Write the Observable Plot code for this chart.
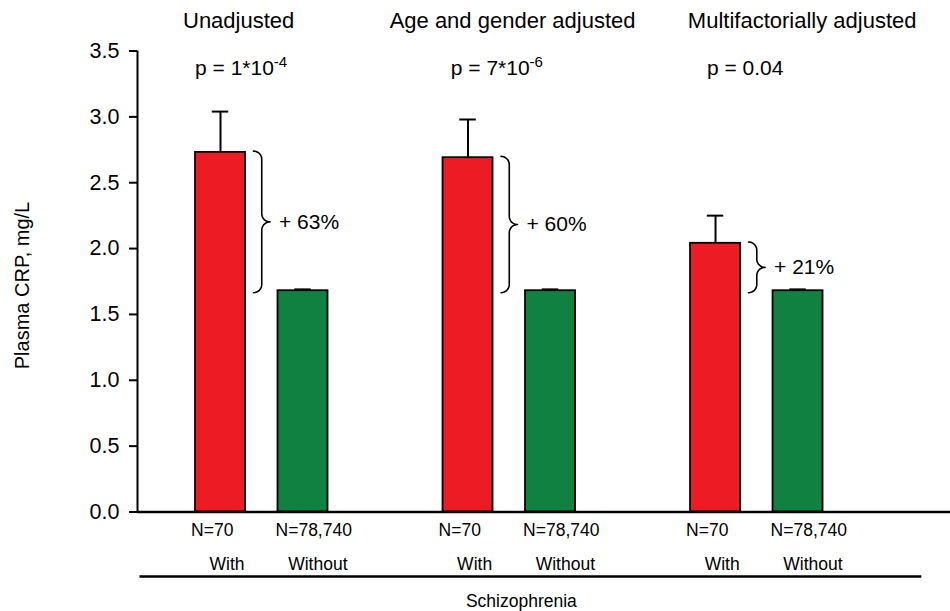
<!DOCTYPE html>
<html>
<head>
<meta charset="utf-8">
<script src="https://cdn.jsdelivr.net/npm/d3@7"></script>
<script src="https://cdn.jsdelivr.net/npm/@observablehq/plot@0.6"></script>
<style>
  html, body { margin: 0; padding: 0; background: #fff; }
  #chart svg { display: block; }
</style>
</head>
<body>
<div id="chart"></div>
<script>
// Plasma CRP in people with and without schizophrenia, under three adjustment models
const models = ["Unadjusted", "Age and gender adjusted", "Multifactorially adjusted"];
const pValues = ["p = 1*10^-4", "p = 7*10^-6", "p = 0.04"];
const statuses = ["With", "Without"];
const groupSizes = ["N=70", "N=78,740"];
const crpWith = [2.73, 2.69, 2.04];
const crpWithUpper = [3.04, 2.98, 2.25];
const crpWithout = [1.68, 1.68, 1.68];
const crpWithoutUpper = [1.69, 1.69, 1.69];
const increases = ["+ 63%", "+ 60%", "+ 21%"];
const yTicks = [0, 0.5, 1, 1.5, 2, 2.5, 3, 3.5];
const groupLabel = "Schizophrenia";
const yLabel = "Plasma CRP, mg/L";

// Layout: each model takes three slots on the x scale (with, without, gap)
const slotsPerModel = 3;
const halfBar = 0.303;
const capHalf = 0.1;
const xDomain = [-1.006, 8.848];
const fontFamily = "'Liberation Sans', Arial, Helvetica, sans-serif";
const colors = {With: "#ED1C24", Without: "#108140"};
const titleShift = [-0.28, 0.04, 0.55];
const pShift = [-0.25, -0.15, -0.14];
const rowShift = {With: [-0.1, 0.08], Without: [0.13, 0.18]};

const bars = [];
models.forEach((m, i) => {
  statuses.forEach((s, j) => {
    bars.push({
      model: m,
      status: s,
      n: groupSizes[j],
      slot: i * slotsPerModel + j,
      value: j === 0 ? crpWith[i] : crpWithout[i],
      upper: j === 0 ? crpWithUpper[i] : crpWithoutUpper[i]
    });
  });
});

// Curly brace between the two bars of each model
const rx = 0.1, ry = 0.062;
function arc(cx, cv, a0, a1, model) {
  const pts = [];
  const n = 8;
  for (let k = 0; k <= n; k++) {
    const t = (a0 + (a1 - a0) * k / n) * Math.PI / 180;
    pts.push({model, x: cx + rx * Math.cos(t), y: cv - ry * Math.sin(t)});
  }
  return pts;
}
const braces = [];
const braceLabels = [];
models.forEach((m, i) => {
  const spine = i * slotsPerModel + 0.5;
  const top = crpWith[i] + 0.01;
  const bot = crpWithout[i] - 0.015;
  const mid = (top + bot) / 2;
  braces.push(
    ...arc(spine - rx, top - ry, -90, 0, m),
    ...arc(spine + rx, mid + ry, 180, 90, m),
    ...arc(spine + rx, mid - ry, 270, 180, m),
    ...arc(spine - rx, bot + ry, 0, 90, m)
  );
  braceLabels.push({x: spine + rx, y: mid, text: increases[i]});
});

const lastSlot = (models.length - 1) * slotsPerModel + 1;
const lineEnd = lastSlot + 1.5;

const chart = Plot.plot({
  width: 950,
  height: 611,
  marginLeft: 137,
  marginRight: 0,
  marginTop: 50.5,
  marginBottom: 99.5,
  style: {fontFamily, color: "#000", background: "#fff", overflow: "visible"},
  x: {type: "linear", domain: xDomain, axis: null},
  y: {domain: [0, 3.5], axis: null},
  marks: [
    // error bars
    Plot.ruleX(bars, {x: "slot", y1: "value", y2: "upper", stroke: "#000", strokeWidth: 2}),
    Plot.ruleY(bars, {y: "upper", x1: d => d.slot - capHalf, x2: d => d.slot + capHalf, stroke: "#000", strokeWidth: 2}),
    // bars
    Plot.rect(bars, {
      x1: d => d.slot - halfBar, x2: d => d.slot + halfBar,
      y1: 0, y2: "value",
      fill: d => colors[d.status], stroke: "#000", strokeWidth: 1.8
    }),
    // axes
    Plot.axisY(yTicks, {
      tickFormat: d => d.toFixed(1), tickSize: 8, tickPadding: 10,
      fontSize: 21.5, strokeWidth: 2, label: null
    }),
    Plot.ruleX([xDomain[0]], {y1: 0, y2: 3.5, stroke: "#000", strokeWidth: 2}),
    Plot.ruleY([0], {stroke: "#000", strokeWidth: 2.5}),
    Plot.text([yLabel], {frameAnchor: "left", dx: -115, dy: 4, rotate: -90, textAnchor: "middle", lineAnchor: "middle", fontSize: 20}),
    // braces and percentage differences
    Plot.line(braces, {x: "x", y: "y", z: "model", stroke: "#000", strokeWidth: 1.6}),
    Plot.text(braceLabels, {x: "x", y: "y", text: "text", textAnchor: "start", dx: 9, fontSize: 21}),
    // model titles and p values
    Plot.text(models, {x: (d, i) => i * slotsPerModel + 0.5 + titleShift[i], frameAnchor: "top", lineAnchor: "middle", dy: -30.5, fontSize: 22}),
    Plot.text(pValues, {x: (d, i) => i * slotsPerModel + 0.5 + pShift[i], frameAnchor: "top", lineAnchor: "middle", dy: 17.5, fontSize: 21}),
    // group sizes and status labels under the bars
    Plot.text(bars, {x: d => d.slot + rowShift[d.status][0], text: "n", frameAnchor: "bottom", lineAnchor: "middle", dy: 18.5, fontSize: 17.5}),
    Plot.text(bars, {x: d => d.slot + rowShift[d.status][1], text: "status", frameAnchor: "bottom", lineAnchor: "middle", dy: 52.5, fontSize: 17.5}),
    Plot.ruleY([0], {x1: xDomain[0] + 0.03, x2: lineEnd, dy: 64.5, stroke: "#000", strokeWidth: 2.5}),
    Plot.text([groupLabel], {x: (xDomain[0] + lineEnd) / 2 - 0.1, frameAnchor: "bottom", lineAnchor: "middle", dy: 89.5, fontSize: 17.5})
  ]
});

// Render "a^b" labels with a raised exponent
chart.querySelectorAll("text").forEach(el => {
  const s = el.textContent;
  if (s.includes("^")) {
    const [base, sup] = s.split("^");
    el.textContent = base;
    const ts = document.createElementNS("http://www.w3.org/2000/svg", "tspan");
    ts.setAttribute("dy", "-0.55em");
    ts.setAttribute("font-size", "15");
    ts.textContent = sup;
    el.appendChild(ts);
  }
});

document.getElementById("chart").appendChild(chart);
</script>
</body>
</html>
